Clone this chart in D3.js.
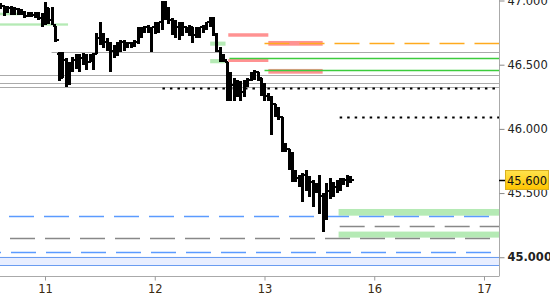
<!DOCTYPE html>
<html><head><meta charset="utf-8">
<script src="https://cdn.jsdelivr.net/npm/d3@7/dist/d3.min.js"></script>
<style>html,body{margin:0;padding:0;background:#fff;overflow:hidden}svg{display:block}</style>
</head><body>
<script>
// ---- data ----
const dayLabels = ["11","12","13","16","17"];
const dayIndex = [0,1,2,3,4];
const slotsPerDay = 32;
const firstSlot = -13;
const highs = [46.98,46.96,46.96,46.96,46.95,46.94,46.93,46.92,46.91,46.91,46.91,46.91,46.90,46.99,46.94,46.95,46.80,46.60,46.60,46.55,46.52,46.56,46.58,46.58,46.59,46.58,46.58,46.59,46.75,46.83,46.75,46.71,46.68,46.65,46.68,46.69,46.69,46.68,46.68,46.69,46.79,46.79,46.80,46.81,46.79,46.83,46.83,47.00,47.00,46.95,46.86,46.85,46.83,46.83,46.79,46.81,46.79,46.79,46.79,46.81,46.83,46.87,46.87,46.75,46.64,46.58,46.52,46.44,46.40,46.38,46.37,46.38,46.40,46.44,46.46,46.44,46.40,46.36,46.28,46.26,46.19,46.17,46.09,45.89,45.84,45.82,45.68,45.64,45.66,45.68,45.63,45.60,45.58,45.64,45.50,45.58,45.62,45.59,45.60,45.62,45.62,45.64,45.63];
const lows = [46.93,46.88,46.90,46.89,46.89,46.89,46.89,46.86,46.87,46.87,46.86,46.85,46.79,46.81,46.82,46.81,46.68,46.37,46.40,46.33,46.34,46.44,46.47,46.44,46.50,46.46,46.52,46.46,46.58,46.65,46.63,46.61,46.44,46.55,46.57,46.60,46.61,46.63,46.63,46.64,46.66,46.71,46.75,46.75,46.60,46.74,46.75,46.77,46.85,46.82,46.73,46.71,46.69,46.72,46.75,46.72,46.67,46.71,46.71,46.75,46.77,46.79,46.72,46.60,46.52,46.52,46.22,46.22,46.22,46.25,46.22,46.25,46.33,46.37,46.38,46.37,46.26,46.22,46.22,45.95,46.09,46.07,45.82,45.82,45.68,45.59,45.59,45.55,45.43,45.52,45.47,45.39,45.50,45.34,45.20,45.29,45.45,45.47,45.50,45.52,45.56,45.55,45.58];
const opens = [46.94,46.96,46.91,46.94,46.91,46.93,46.90,46.91,46.88,46.89,46.89,46.90,46.86,46.83,46.94,46.85,46.80,46.58,46.40,46.54,46.38,46.50,46.54,46.52,46.55,46.56,46.52,46.56,46.58,46.71,46.73,46.68,46.65,46.61,46.63,46.65,46.68,46.65,46.67,46.66,46.68,46.77,46.77,46.79,46.77,46.79,46.81,46.83,46.96,46.91,46.85,46.81,46.79,46.77,46.79,46.77,46.79,46.73,46.77,46.79,46.79,46.83,46.85,46.73,46.61,46.56,46.52,46.26,46.34,46.30,46.34,46.29,46.36,46.38,46.42,46.44,46.40,46.30,46.26,46.25,46.19,46.15,46.09,45.87,45.84,45.72,45.66,45.62,45.60,45.64,45.56,45.59,45.52,45.56,45.48,45.37,45.52,45.56,45.55,45.59,45.58,45.60,45.62];
const closes = [46.96,46.91,46.94,46.91,46.93,46.90,46.91,46.88,46.89,46.89,46.90,46.86,46.83,46.94,46.85,46.81,46.69,46.40,46.54,46.38,46.50,46.54,46.52,46.55,46.56,46.52,46.56,46.58,46.71,46.73,46.68,46.65,46.61,46.63,46.65,46.68,46.65,46.67,46.66,46.68,46.77,46.77,46.79,46.77,46.79,46.81,46.83,46.96,46.91,46.85,46.81,46.79,46.77,46.79,46.77,46.79,46.73,46.77,46.79,46.79,46.83,46.85,46.73,46.61,46.56,46.54,46.26,46.34,46.30,46.34,46.29,46.36,46.38,46.42,46.44,46.40,46.30,46.26,46.25,46.19,46.15,46.09,45.87,45.84,45.72,45.66,45.62,45.60,45.64,45.56,45.59,45.52,45.56,45.48,45.37,45.52,45.56,45.55,45.59,45.58,45.60,45.62,45.60];
const lastPrice = 45.600;
const priceTicks = [45.0,45.5,46.0,46.5,47.0];
const boldTicks = [45.0];
// horizontal levels: price, start (day index), kind
const levels = [
  {kind:"gray", price:46.60, from:0.06},
  {kind:"gray", price:46.42, from:null},
  {kind:"gray", price:46.355, from:null},
  {kind:"gray", price:46.33, from:null},
  {kind:"dotted", price:46.317, from:1.07},
  {kind:"dotted", price:46.095, from:2.685},
  {kind:"orange", price:46.672, from:2.0},
  {kind:"green", price:46.55, from:1.68},
  {kind:"green", price:46.457, from:2.0},
  {kind:"blueDash", price:45.324, from:null},
  {kind:"grayDash2", price:45.241, from:2.685},
  {kind:"grayDash", price:45.148, from:null},
  {kind:"blueDash2", price:45.041, from:null},
  {kind:"blue", price:45.005, from:null},
  {kind:"blue", price:44.937, from:null}
];
const zones = [
  {kind:"band", hi:45.005, lo:44.937, from:null, to:null},
  {kind:"pink", hi:46.745, lo:46.718, from:1.67, to:2.035},
  {kind:"pink", hi:46.685, lo:46.648, from:2.035, to:2.53},
  {kind:"pink", hi:46.544, lo:46.521, from:1.67, to:2.035},
  {kind:"pink", hi:46.467, lo:46.430, from:2.035, to:2.53},
  {kind:"lgreen", hi:46.822, lo:46.804, from:null, to:0.21},
  {kind:"lgreen", hi:46.905, lo:46.885, from:null, to:-0.23},
  {kind:"lgreen", hi:46.680, lo:46.648, from:1.505, to:1.645},
  {kind:"lgreen", hi:46.544, lo:46.511, from:1.505, to:1.645},
  {kind:"lgreen", hi:45.376, lo:45.324, from:2.675, to:null},
  {kind:"lgreen", hi:45.200, lo:45.153, from:2.675, to:null}
];

// ---- styles ----
const lineStyle = {
  gray:{stroke:"#aaaaaa", w:1.2, dash:null},
  dotted:{stroke:"#000", w:2, dash:"2.5,5"},
  orange:{stroke:"#ffaa1e", w:1.5, dash:"25,10"},
  green:{stroke:"#3ccc3c", w:1.3, dash:null},
  blueDash:{stroke:"#5b9bff", w:1.3, dash:"25,10", off:-9},
  blueDash2:{stroke:"#5b9bff", w:1.3, dash:"25,10", off:-11},
  grayDash:{stroke:"#888", w:1.3, dash:"25,10", off:-10},
  grayDash2:{stroke:"#888", w:1.3, dash:"25,10", off:0},
  blue:{stroke:"#6a9cf0", w:1.2, dash:null}
};
const zoneFill = {pink:"#ff9292", lgreen:"#b5eab5", band:"#e8eeff"};

const W = 550, H = 300;
const plotR = 499, plotB = 276;
const svg = d3.select("body").append("svg").attr("width",W).attr("height",H)
  .style("font-family","'DejaVu Sans', Verdana, sans-serif");

const x = d3.scaleLinear().domain([-45/109.75, (plotR-45)/109.75]).range([0, plotR]);
const y = d3.scaleLinear().domain([44.854, 47.004]).range([plotB, 0]);

const defs = svg.append("defs");
defs.append("clipPath").attr("id","clip")
  .append("rect").attr("x",0).attr("y",0).attr("width",plotR).attr("height",plotB);
const g = svg.append("g").attr("clip-path","url(#clip)");

// zones
g.selectAll("rect.zone").data(zones).join("rect")
  .attr("x", d => d.from==null ? 0 : x(d.from))
  .attr("width", d => (d.to==null ? plotR : x(d.to)) - (d.from==null ? 0 : x(d.from)))
  .attr("y", d => y(d.hi))
  .attr("height", d => y(d.lo) - y(d.hi))
  .attr("fill", d => zoneFill[d.kind]);

// lines
g.selectAll("line.lvl").data(levels).join("line")
  .attr("x1", d => d.from==null ? 0 : x(d.from))
  .attr("x2", plotR)
  .attr("y1", d => Math.round(y(d.price))+0.5)
  .attr("y2", d => Math.round(y(d.price))+0.5)
  .attr("stroke", d => lineStyle[d.kind].stroke)
  .attr("stroke-width", d => lineStyle[d.kind].w)
  .attr("stroke-dasharray", d => lineStyle[d.kind].dash)
  .attr("stroke-dashoffset", d => lineStyle[d.kind].off || 0);

// OHLC bars
const bars = highs.map((h,i)=>({t:(i+firstSlot)/slotsPerDay, h, l:lows[i], o:opens[i], c:closes[i]}));
const bg = g.append("g").attr("stroke","#000").attr("shape-rendering","crispEdges");
bars.forEach(b=>{
  const cx = Math.round(x(b.t)) + 0.5;
  bg.append("line").attr("x1",cx).attr("x2",cx).attr("y1",y(b.h)).attr("y2",y(b.l)).attr("stroke-width",3);
  bg.append("line").attr("x1",cx-3).attr("x2",cx).attr("y1",y(b.o)).attr("y2",y(b.o)).attr("stroke-width",2);
  bg.append("line").attr("x1",cx).attr("x2",cx+3).attr("y1",y(b.c)).attr("y2",y(b.c)).attr("stroke-width",2);
});

// axes
const axisColor = "#aaaaaa";
const yAxis = svg.append("g").attr("transform",`translate(${plotR+0.5},0)`)
  .call(d3.axisRight(y).tickValues(priceTicks).tickSize(5).tickPadding(3).tickFormat(d3.format(".3f")));
yAxis.select(".domain").attr("stroke",axisColor).attr("d",`M0,0V${plotB}`);
yAxis.selectAll(".tick line").attr("stroke","#888");
yAxis.selectAll(".tick text").attr("fill","#222").attr("font-size",11.5)
  .attr("font-family","'DejaVu Sans', Verdana, sans-serif")
  .attr("font-weight", d => boldTicks.includes(d) ? "bold" : "normal");

const xAxis = svg.append("g").attr("transform",`translate(0,${plotB+0.5})`)
  .call(d3.axisBottom(x).tickValues(dayIndex).tickSize(4).tickPadding(4).tickFormat((d,i)=>dayLabels[i]));
xAxis.select(".domain").attr("stroke",axisColor).attr("d",`M0,0H${plotR+0.5}`);
xAxis.selectAll(".tick line").attr("stroke","#999");
xAxis.selectAll(".tick text").attr("fill","#3a2a10").attr("font-size",11.5)
  .attr("font-family","'DejaVu Sans', Verdana, sans-serif");

// last price tag
const ly = y(lastPrice);
svg.append("line").attr("x1",plotR).attr("x2",plotR+6).attr("y1",Math.round(ly)+0.5).attr("y2",Math.round(ly)+0.5)
  .attr("stroke","#000").attr("stroke-width",1.5);
const grad = defs.append("linearGradient").attr("id","tag").attr("x1",0).attr("x2",0).attr("y1",0).attr("y2",1);
grad.append("stop").attr("offset","0%").attr("stop-color","#ffe34d");
grad.append("stop").attr("offset","100%").attr("stop-color","#ffc400");
svg.append("rect").attr("x",505.5).attr("y",Math.round(ly)-9.5).attr("width",43).attr("height",19)
  .attr("fill","url(#tag)").attr("stroke","#d9b020").attr("stroke-width",1);
svg.append("text").attr("x",527).attr("y",ly+4.5).attr("text-anchor","middle")
  .attr("font-size",11.5).attr("fill","#111").text(d3.format(".3f")(lastPrice));
</script>
</body></html>
